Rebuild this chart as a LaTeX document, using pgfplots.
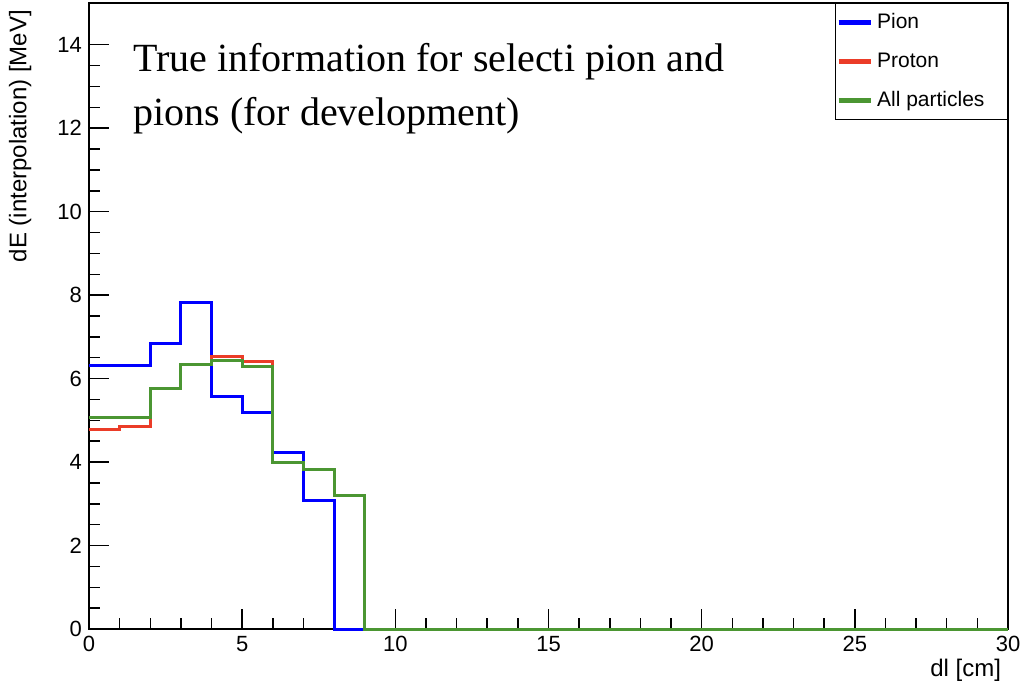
\documentclass[border=0pt]{standalone}
\usepackage{fontspec}
\setmainfont{Liberation Serif}
\newfontfamily\hel{Liberation Sans}
\usepackage{pgfplots}
\pgfplotsset{compat=1.18}
\definecolor{rootblue}{RGB}{0,0,255}
\definecolor{rootred}{RGB}{235,60,40}
\definecolor{rootgreen}{RGB}{75,150,50}
\begin{document}
\begin{tikzpicture}
\useasboundingbox (-44.5pt,-29pt) rectangle (466.5pt,314.5pt);
\begin{axis}[
  name=ax, at={(0pt,0pt)}, anchor=south west,
  scale only axis, width=459.5pt, height=313pt,
  xmin=0, xmax=30, ymin=0, ymax=15,
  xtick={0,5,...,30}, ytick={0,2,...,14},
  minor x tick num=4, minor y tick num=3,
  tick align=inside,
  xtick pos=bottom, ytick pos=left,
  major tick length=10pt, minor tick length=5.5pt,
  axis line style={line width=0.75pt},
  every tick/.style={black, line width=0.75pt},
  tick label style={font=\hel\fontsize{11}{13}\selectfont},
  /pgf/number format/assume math mode=true,
  label style={font=\hel\fontsize{12}{14}\selectfont},
  xlabel={dl [cm]},
  ylabel={dE (interpolation) [MeV]},
  xlabel style={at={(axis description cs:1,-0.066)}, anchor=east},
  ylabel style={at={(axis description cs:-0.075,1)}, anchor=east},
  clip=false,
  legend style={at={(rel axis cs:1,1)}, anchor=north east, draw=black, line width=0.5pt,
    font=\hel\fontsize{10.5}{12}\selectfont, inner xsep=0.5pt, inner ysep=3pt, row sep=6.5pt,
    cells={anchor=west}},
  legend image code/.code={\draw[#1, line width=2.5pt] (0pt,0pt) -- (16pt,0pt);},
]
\addplot[const plot, rootblue, line width=1.5pt] coordinates {
 (0,6.32) (1,6.32) (2,6.84) (3,7.82) (4,5.56) (5,5.18) (6,4.22) (7,3.08)
 (8,0) (9,0) (10,0) (11,0) (12,0) (13,0) (14,0) (15,0) (16,0) (17,0) (18,0) (19,0)
 (20,0) (21,0) (22,0) (23,0) (24,0) (25,0) (26,0) (27,0) (28,0) (29,0) (30,0)};
\addlegendentry{Pion}
\addplot[const plot, rootred, line width=1.5pt] coordinates {
 (0,4.78) (1,4.86) (2,5.76) (3,6.34) (4,6.54) (5,6.42) (6,4.00) (7,3.82) (8,3.20)
 (9,0) (10,0) (11,0) (12,0) (13,0) (14,0) (15,0) (16,0) (17,0) (18,0) (19,0)
 (20,0) (21,0) (22,0) (23,0) (24,0) (25,0) (26,0) (27,0) (28,0) (29,0) (30,0)};
\addlegendentry{Proton}
\addplot[const plot, rootgreen, line width=1.5pt] coordinates {
 (0,5.06) (1,5.06) (2,5.76) (3,6.34) (4,6.44) (5,6.30) (6,4.00) (7,3.82) (8,3.20)
 (9,0) (10,0) (11,0) (12,0) (13,0) (14,0) (15,0) (16,0) (17,0) (18,0) (19,0)
 (20,0) (21,0) (22,0) (23,0) (24,0) (25,0) (26,0) (27,0) (28,0) (29,0) (30,0)};
\addlegendentry{All particles\rule{9pt}{0pt}}
\node[anchor=base west, font=\fontsize{20}{26.5}\selectfont, inner sep=0pt]
  at (axis description cs:0.0479,0.8898) {True information for selecti pion and};
\node[anchor=base west, font=\fontsize{20}{26.5}\selectfont, inner sep=0pt]
  at (axis description cs:0.0479,0.8051) {pions (for development)};
\end{axis}
\end{tikzpicture}
\end{document}
